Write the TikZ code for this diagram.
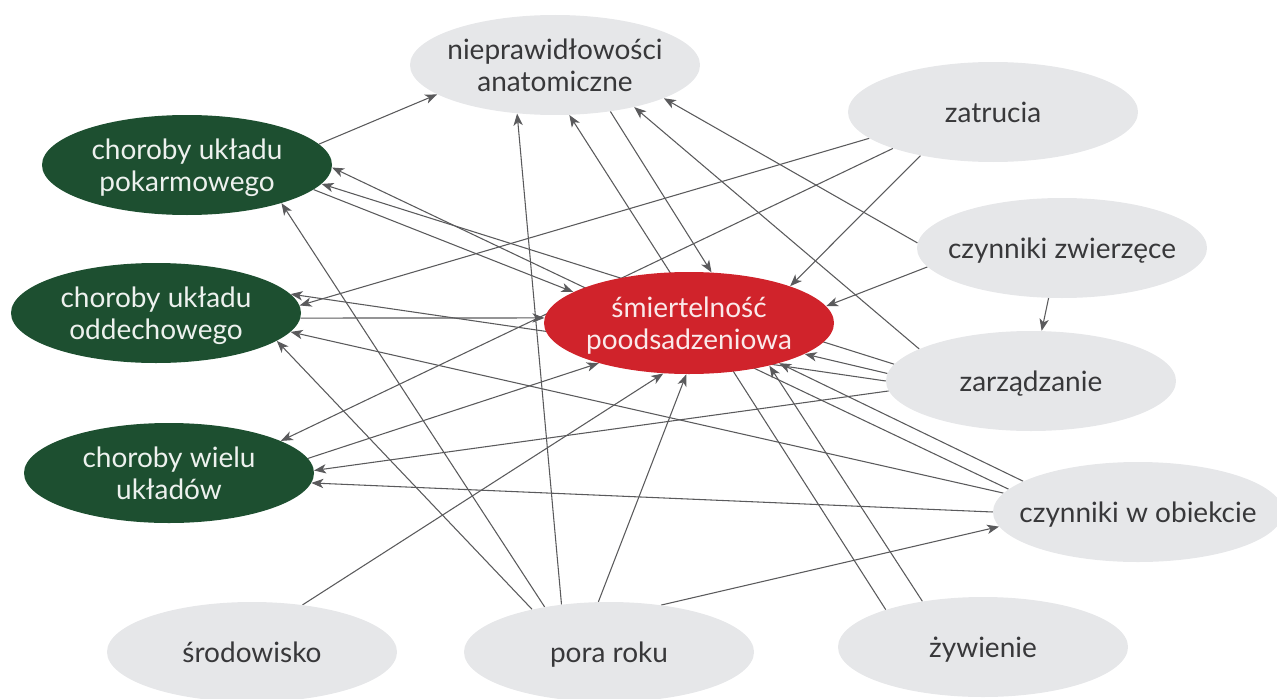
\documentclass[tikz,border=0pt]{standalone}
\usepackage{fontspec}
\setmainfont{Lato}
\usetikzlibrary{shapes.geometric,arrows.meta}
\definecolor{nodegray}{HTML}{E6E7E9}
\definecolor{dkgreen}{HTML}{1D4F30}
\definecolor{mred}{HTML}{D0232B}
\definecolor{edgegray}{HTML}{5A5A5C}
\definecolor{txtgray}{HTML}{38383A}
\pgfdeclarelayer{bg}
\pgfsetlayers{bg,main}
\newcommand{\ztxt}[1]{\makebox[0pt]{\raisebox{-2.8pt}[\height][\depth]{\begin{tabular}{@{}c@{}}#1\end{tabular}}}}
\begin{document}
\begin{tikzpicture}[x=0.75pt,y=-0.75pt,
  base/.style={ellipse, minimum width=217.5pt, minimum height=75pt, inner sep=0pt, font=\fontsize{21}{24}\selectfont},
  gnode/.style={base, fill=nodegray, text=txtgray},
  dnode/.style={base, fill=dkgreen, text=white!92!dkgreen},
  rnode/.style={base, fill=mred, text=white!90!mred, minimum height=76.5pt},
  conn/.style={draw=edgegray, line width=0.8pt, -{Stealth[length=9pt,width=7pt,inset=2.5pt]}}
]
\useasboundingbox (0,0) rectangle (1277,699);
\node[gnode] (anat) at (555,65) {\ztxt{nieprawidłowości\\anatomiczne}};
\node[gnode] (zat) at (993,112) {\ztxt{zatrucia}};
\node[dnode] (pok) at (187,165) {\ztxt{choroby układu\\pokarmowego}};
\node[gnode] (zw) at (1062,248) {\ztxt{czynniki zwierzęce}};
\node[dnode] (odd) at (156,313) {\ztxt{choroby układu\\oddechowego}};
\node[rnode] (red) at (689,323) {\ztxt{śmiertelność\\poodsadzeniowa}};
\node[gnode] (zarz) at (1031,381) {\ztxt{zarządzanie}};
\node[dnode] (wielu) at (169,473) {\ztxt{choroby wielu\\układów}};
\node[gnode] (obj) at (1138,512) {\ztxt{czynniki w obiekcie}};
\node[gnode] (srod) at (252,652) {\ztxt{środowisko}};
\node[gnode] (pora) at (609,652) {\ztxt{pora roku}};
\node[gnode] (zyw) at (983,647) {\ztxt{żywienie}};
\begin{pgfonlayer}{bg}
\draw[conn] (pok.9) -- (anat.194);
\draw[conn] (pok.-11) -- (red.165);
\draw[conn] (odd.-2) -- (red.178);
\draw[conn] (wielu.6) -- (red.-156);
\draw[conn] (srod.43) -- (red.-117);
\draw[conn] (pora.102) -- (red.-93);
\draw[conn] (anat.-40) -- (red.66);
\draw[conn] (zat.-149) -- (red.20);
\draw[conn] (zw.-172) -- (red.7);
\draw[conn] (zarz.177) -- (red.-15);
\draw[conn] (obj.165) -- (red.-24);
\draw[conn] (zyw.143) -- (red.-28);
\draw[conn] (pora.135) -- (anat.-128);
\draw[conn] (zyw.159) -- (anat.-74);
\draw[conn] (zarz.164) -- (anat.-28);
\draw[conn] (zw.178) -- (anat.-17);
\draw[conn] (zat.-168) -- (odd.3);
\draw[conn] (zat.-160) -- (wielu.16);
\draw[conn] (zarz.173) -- (pok.-8);
\draw[conn] (obj.170) -- (pok.-1);
\draw[conn] (pora.145) -- (pok.-22);
\draw[conn] (zarz.180) -- (odd.8);
\draw[conn] (obj.172) -- (odd.-8);
\draw[conn] (pora.151) -- (odd.-13);
\draw[conn] (zarz.-176) -- (wielu.1);
\draw[conn] (obj.180) -- (wielu.-4);
\draw[conn] (pora.42) -- (obj.-174);
\draw[conn] (zw.-105) -- (zarz.78);
\end{pgfonlayer}
\end{tikzpicture}
\end{document}
